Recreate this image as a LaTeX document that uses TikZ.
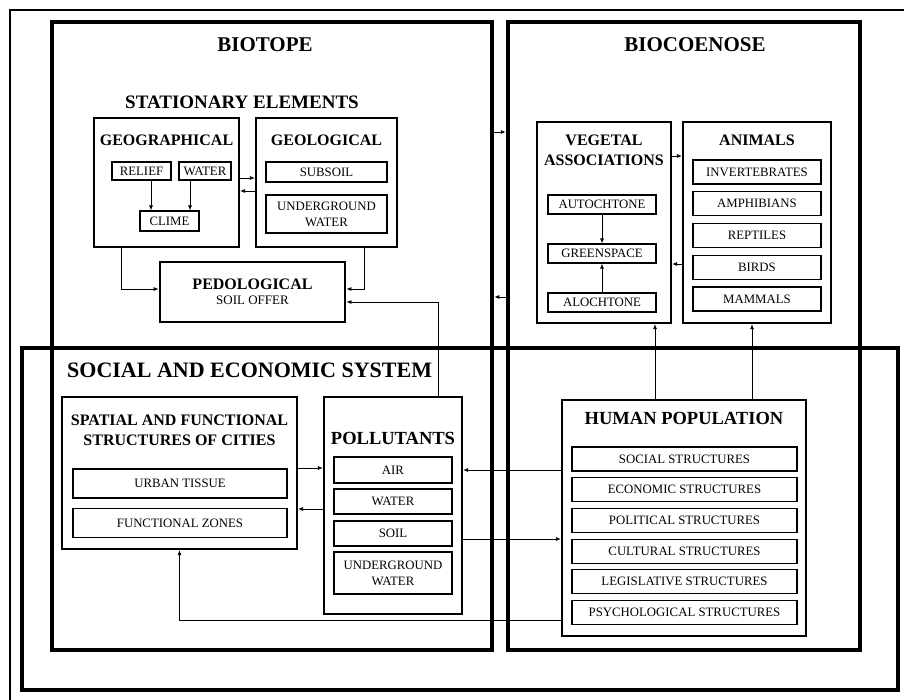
\documentclass[tikz,border=0pt]{standalone}
\usepackage{fontspec}
\setmainfont{Liberation Serif}
\usetikzlibrary{positioning, arrows.meta}

\begin{document}
\begin{tikzpicture}[x=1pt, y=-1pt, on grid, >={Latex[length=5pt, width=4pt]}]
    \tikzset{
        frame/.style={draw, line width=4.5pt, inner sep=0pt},
        group/.style={draw, line width=2.2pt, inner sep=0pt},
        item/.style={draw, line width=1.1pt, inner sep=0pt, align=center, font=\fontsize{12.8}{16}\selectfont},
        bigtitle/.style={inner sep=0pt, font=\fontsize{21}{24}\selectfont\bfseries},
        head/.style={inner sep=0pt, align=center, font=\fontsize{16}{20}\selectfont\bfseries},
        bighead/.style={inner sep=0pt, font=\fontsize{18.5}{21}\selectfont\bfseries},
        link/.style={line width=0.8pt},
        vitem/.style={item, minimum width=108pt, minimum height=19pt},
        aitem/.style={item, minimum width=128pt, minimum height=24pt},
        sitem/.style={item, minimum width=214pt, minimum height=29pt},
        pitem/.style={item, minimum width=118pt},
        hitem/.style={item, minimum width=225pt, minimum height=24pt}
    }
    \useasboundingbox (0,0) rectangle (904,700);
    \draw[line width=1.2pt] (10,700) -- (10,10) -- (904,10);

    % the three systems
    \node[frame, minimum width=440pt, minimum height=628pt] (biotope) at (272,336) {};
    \node[frame, minimum width=352pt, minimum height=628pt] (biocoen) at (684,336) {};
    \node[frame, minimum width=876pt, minimum height=342pt] (socsys) at (460,519) {};

    \node[bigtitle] (tbiotope) at (265,45) {BIOTOPE};
    \node[bigtitle] (tbiocoen) at (695,45) {BIOCOENOSE};
    \node[inner sep=0pt, font=\fontsize{19}{22}\selectfont\bfseries] (tstat) at (242,102) {STATIONARY ELEMENTS};
    \node[inner sep=0pt, anchor=west, font=\fontsize{22}{25}\selectfont\bfseries] (tsocsys) at (67,370) {SOCIAL AND ECONOMIC SYSTEM};

    % biotope
    \node[group, minimum width=145pt, minimum height=129pt] (geog) at (166.5,182.5) {};
    \node[head] (tgeog) at (166.5,140) {GEOGRAPHICAL};
    \node[item, minimum width=59pt, minimum height=18pt] (relief) at (141.5,171) {RELIEF};
    \node[item, minimum width=52pt, minimum height=18pt] (gwater) at (205,171) {WATER};
    \node[item, minimum width=59pt, minimum height=20pt] (clime) at (169.5,221) {CLIME};

    \node[group, minimum width=141pt, minimum height=129pt] (geol) at (326.5,182.5) {};
    \node[head] (tgeol) at (326.5,140) {GEOLOGICAL};
    \node[item, minimum width=121pt, minimum height=20pt] (subsoil) at (326.5,172) {SUBSOIL};
    \node[item, minimum width=121pt, minimum height=38pt] (ugwater) at (326.5,214) {UNDERGROUND\\WATER};

    \node[group, line width=2.8pt, minimum width=185pt, minimum height=60pt, align=center] (pedo) at (252.5,292)
        {{\fontsize{16}{18}\selectfont\bfseries PEDOLOGICAL}\\[3pt]{\fontsize{13}{15}\selectfont SOIL OFFER}};

    % biocoenose
    \node[group, minimum width=134pt, minimum height=201pt] (veget) at (604,222.5) {};
    \node[head] (tveget) at (604,150) {VEGETAL\\ASSOCIATIONS};
    \node[vitem] (autoch) at (602,204.5) {AUTOCHTONE};
    \node[vitem, below=49pt of autoch] (green) {GREENSPACE};
    \node[vitem, below=49pt of green] (aloch) {ALOCHTONE};

    \node[group, minimum width=148pt, minimum height=201pt] (animals) at (757,222.5) {};
    \node[head] (tanimals) at (757,140) {ANIMALS};
    \node[aitem] (invert) at (757,172) {INVERTEBRATES};
    \node[aitem, below=31.75pt of invert] (amph) {AMPHIBIANS};
    \node[aitem, below=31.75pt of amph] (rept) {REPTILES};
    \node[aitem, below=31.75pt of rept] (birds) {BIRDS};
    \node[aitem, below=31.75pt of birds] (mammals) {MAMMALS};

    % social and economic system
    \node[group, minimum width=235pt, minimum height=152pt] (spatial) at (179.5,473) {};
    \node[head] (tspatial) at (179.5,430) {SPATIAL AND FUNCTIONAL\\STRUCTURES OF CITIES};
    \node[sitem] (urban) at (180,483.5) {URBAN TISSUE};
    \node[sitem, below=39.5pt of urban] (fzones) {FUNCTIONAL ZONES};

    \node[group, minimum width=138pt, minimum height=217pt] (pollut) at (393,505.5) {};
    \node[bighead] (tpollut) at (393,438) {POLLUTANTS};
    \node[pitem, minimum height=26pt] (air) at (393,470) {AIR};
    \node[pitem, minimum height=25pt] (pwater) at (393,501.5) {WATER};
    \node[pitem, minimum height=25pt] (psoil) at (393,533.5) {SOIL};
    \node[pitem, minimum height=42pt] (pug) at (393,573) {UNDERGROUND\\WATER};

    \node[group, minimum width=244pt, minimum height=236pt] (human) at (684,518) {};
    \node[bighead] (thuman) at (684,418) {HUMAN POPULATION};
    \node[hitem] (hsocial) at (684.5,459) {SOCIAL STRUCTURES};
    \node[hitem, below=30.7pt of hsocial] (hecon) {ECONOMIC STRUCTURES};
    \node[hitem, below=30.7pt of hecon] (hpolit) {POLITICAL STRUCTURES};
    \node[hitem, below=30.7pt of hpolit] (hcult) {CULTURAL STRUCTURES};
    \node[hitem, below=30.7pt of hcult] (hlegis) {LEGISLATIVE STRUCTURES};
    \node[hitem, below=30.7pt of hlegis] (hpsych) {PSYCHOLOGICAL STRUCTURES};

    \path[->, link]
        (geog.east |- 0,178) edge (geol.west |- 0,178)
        (geol.west |- 0,191) edge (geog.east |- 0,191)
        (relief.south -| 151,0) edge (clime.north -| 151,0)
        (gwater.south -| 190,0) edge (clime.north -| 190,0)
        (biotope.east |- 0,132) edge (biocoen.west |- 0,132)
        (biocoen.west |- 0,297) edge (biotope.east |- 0,297)
        (veget.east |- 0,156) edge (animals.west |- 0,156)
        (animals.west |- 0,264) edge (veget.east |- 0,264)
        (autoch) edge (green)
        (aloch) edge (green)
        (human.north -| 655,0) edge (veget.south -| 655,0)
        (human.north -| 752,0) edge (animals.south -| 752,0)
        (spatial.east |- 0,468) edge (pollut.west |- 0,468)
        (pollut.west |- 0,509) edge (spatial.east |- 0,509)
        (human.west |- 0,470) edge (pollut.east |- 0,470)
        (pollut.east |- 0,539) edge (human.west |- 0,539);

    \draw[->, link] (geog.south -| 121,0) |- (pedo.west |- 0,289);
    \draw[->, link] (geol.south -| 364,0) |- (pedo.east |- 0,289);
    \draw[->, link] (pollut.north -| 438,0) |- (pedo.east |- 0,302);
    \draw[->, link] (human.west |- 0,620) -| (spatial.south);

\end{tikzpicture}
\end{document}
